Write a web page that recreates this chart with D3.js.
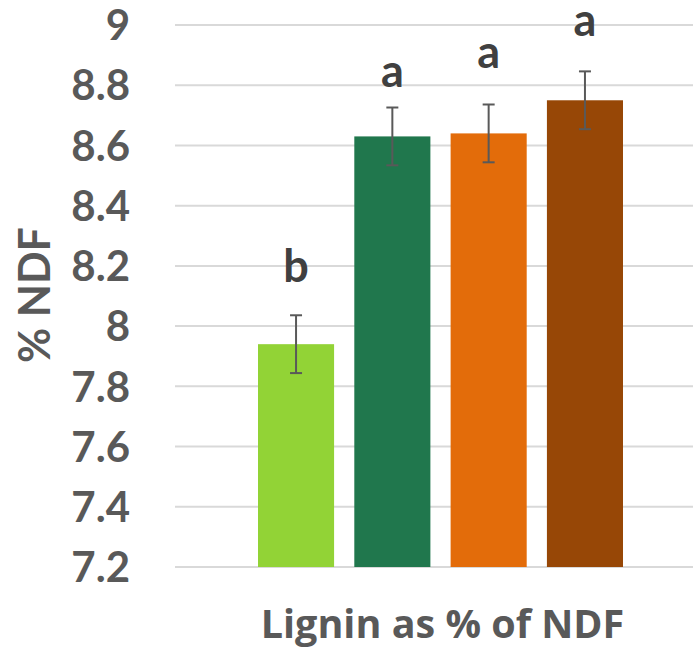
<!DOCTYPE html>
<html>
<head>
<meta charset="utf-8">
<script src="https://cdn.jsdelivr.net/npm/d3@7/dist/d3.min.js"></script>
<style>
  html, body { margin: 0; padding: 0; background: #fff; }
  svg { display: block; }
  text { font-family: Lato, "Open Sans", sans-serif; font-weight: 700; }
</style>
</head>
<body>
<svg id="chart" width="693" height="653"></svg>
<script>
// ---- data ----
const categories = ["T1", "T2", "T3", "T4"];
const values = [7.94, 8.63, 8.64, 8.75];
const errors = [0.096, 0.096, 0.096, 0.096];
const letters = ["b", "a", "a", "a"];
const letterValues = [8.146, 8.794, 8.857, 8.963];
const colors = ["#92D336", "#20774D", "#E36C0A", "#974706"];
const yTicks = [7.2, 7.4, 7.6, 7.8, 8, 8.2, 8.4, 8.6, 8.8, 9];
const yTitle = "% NDF";
const xTitle = "Lignin as % of NDF";

// ---- layout ----
const svg = d3.select("#chart");
const plot = { left: 175, right: 693, top: 25, bottom: 567 };

const y = d3.scaleLinear().domain([7.2, 9]).range([plot.bottom, plot.top]);
const x = d3.scaleBand().domain(categories).range([258, 623]).paddingInner(0.21).paddingOuter(0);

// gridlines
svg.append("g").selectAll("line").data(yTicks).join("line")
  .attr("x1", plot.left).attr("x2", plot.right)
  .attr("y1", d => y(d)).attr("y2", d => y(d))
  .attr("stroke", "#d9d9d9").attr("stroke-width", 2);

// y axis labels
const yAxis = d3.axisLeft(y).tickValues(yTicks).tickFormat(d3.format("~g")).tickSize(0).tickPadding(0);
const ya = svg.append("g").attr("transform", "translate(130,0)").call(yAxis);
ya.select(".domain").remove();
ya.selectAll("text")
  .attr("fill", "#595959")
  .style("font-family", "Lato, 'Open Sans', sans-serif")
  .style("font-weight", 700)
  .style("font-size", "42px")
  .attr("dy", "0.35em");

// bars
svg.append("g").selectAll("rect").data(values).join("rect")
  .attr("x", (d, i) => x(categories[i]))
  .attr("width", x.bandwidth())
  .attr("y", d => y(d))
  .attr("height", d => y(7.2) - y(d))
  .attr("fill", (d, i) => colors[i]);

// error bars
const eg = svg.append("g").attr("stroke", "#595959").attr("stroke-width", 2);
values.forEach((v, i) => {
  const cx = x(categories[i]) + x.bandwidth() / 2;
  const y1 = y(v + errors[i]), y2 = y(v - errors[i]);
  eg.append("line").attr("x1", cx).attr("x2", cx).attr("y1", y1).attr("y2", y2);
  eg.append("line").attr("x1", cx - 6).attr("x2", cx + 6).attr("y1", y1).attr("y2", y1);
  eg.append("line").attr("x1", cx - 6).attr("x2", cx + 6).attr("y1", y2).attr("y2", y2);
});

// significance letters
svg.append("g").selectAll("text").data(letters).join("text")
  .attr("x", (d, i) => x(categories[i]) + x.bandwidth() / 2)
  .attr("y", (d, i) => y(letterValues[i]))
  .attr("text-anchor", "middle")
  .attr("fill", "#404040")
  .style("font-size", "45px")
  .text(d => d);

// axis titles
svg.append("text")
  .attr("transform", "translate(50,295) rotate(-90)")
  .attr("text-anchor", "middle")
  .attr("fill", "#595959")
  .style("font-size", "43px")
  .text(yTitle);

svg.append("text")
  .attr("x", 442.5).attr("y", 638)
  .attr("text-anchor", "middle")
  .attr("fill", "#595959")
  .style("font-family", "'Open Sans', Lato, sans-serif")
  .style("font-size", "39.5px")
  .text(xTitle);
</script>
</body>
</html>
